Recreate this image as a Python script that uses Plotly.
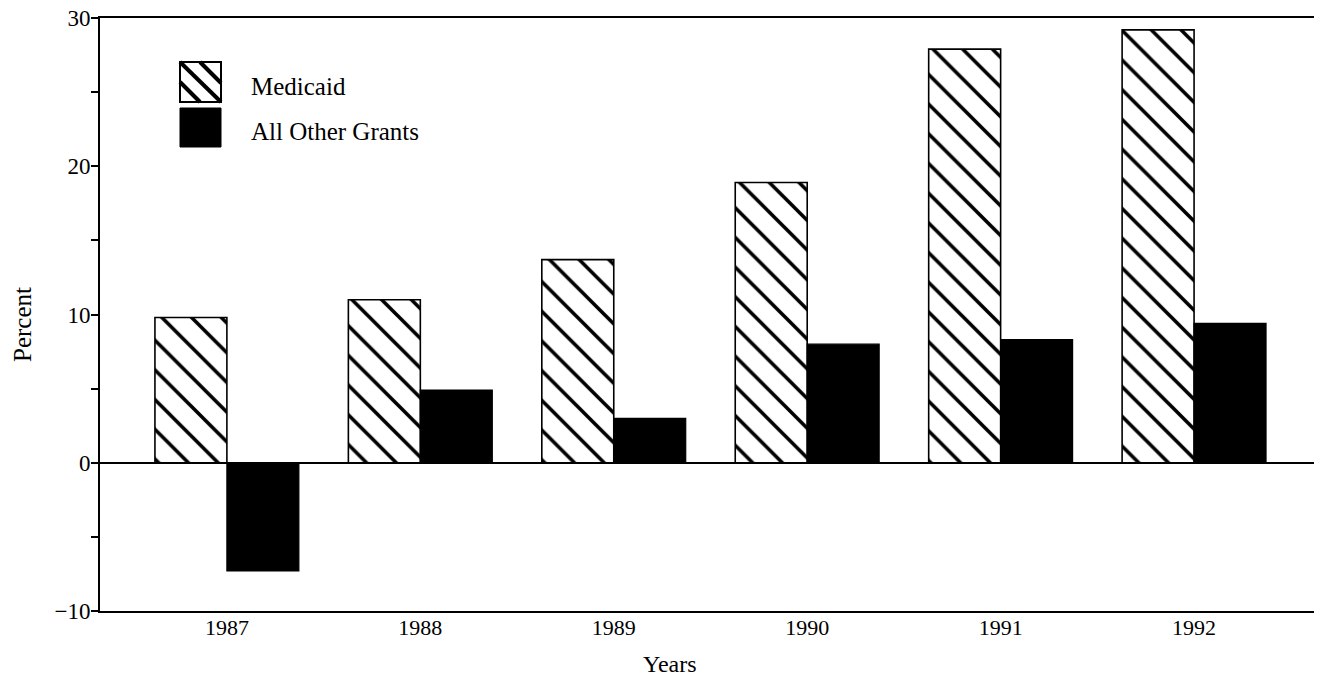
import plotly.graph_objects as go

years = [1987, 1988, 1989, 1990, 1991, 1992]
medicaid = [9.8, 11.0, 13.7, 18.9, 27.9, 29.2]
other_grants = [-7.3, 4.9, 3.0, 8.0, 8.3, 9.4]
y_ticks = [-10, 0, 10, 20, 30]

# page body has an 8px margin; figure is sized so the page does not overflow
O = 8
FW, FH = 1306, 665
ML, MR, MT, MB = 92, 0, 10, 62
PLOT_L, PLOT_B = O + ML, O + FH - MB          # window pixels
PW, PH = FW - ML - MR, FH - MT - MB
FONT = "Liberation Serif"


def px(x):
    return (x - PLOT_L) / PW


def py(y):
    return (PLOT_B - y) / PH


bw = 0.372
fig = go.Figure()
fig.add_trace(go.Bar(
    x=years, y=medicaid, name="Medicaid", width=bw, offset=-bw,
    marker=dict(color="white", line=dict(color="black", width=1.6),
                pattern=dict(shape="\\", fgcolor="black", bgcolor="white",
                             size=21, solidity=0.17, fillmode="replace")),
    showlegend=False))
fig.add_trace(go.Bar(
    x=years, y=other_grants, name="All Other Grants", width=bw, offset=0,
    marker=dict(color="black", line=dict(color="black", width=1.2)),
    showlegend=False))

shapes = []
# legend swatches
x0, x1, y0, y1 = 180, 221, 62, 102
shapes.append(dict(type="rect", xref="paper", yref="paper",
                   x0=px(x0), x1=px(x1), y0=py(y1), y1=py(y0),
                   line=dict(color="black", width=2), fillcolor="white"))
for (ax, ay, bx, by) in [(x0, y0, x1, y1), (x0 + 20, y0, x1, y0 + 21), (x0, y0 + 20, x0 + 20, y1)]:
    shapes.append(dict(type="line", xref="paper", yref="paper",
                       x0=px(ax), y0=py(ay), x1=px(bx), y1=py(by),
                       line=dict(color="black", width=4)))
shapes.append(dict(type="rect", xref="paper", yref="paper",
                   x0=px(180), x1=px(221), y0=py(147), y1=py(108),
                   line=dict(color="black", width=1), fillcolor="black"))

annotations = [
    dict(text="Medicaid", xref="paper", yref="paper", x=px(249), y=py(87),
         xanchor="left", yanchor="middle", showarrow=False,
         font=dict(family=FONT, size=25, color="black")),
    dict(text="All Other Grants", xref="paper", yref="paper", x=px(249), y=py(131),
         xanchor="left", yanchor="middle", showarrow=False,
         font=dict(family=FONT, size=25, color="black")),
    dict(text="Percent", xref="paper", yref="paper", x=px(22), y=py(325),
         xanchor="center", yanchor="middle", textangle=-90, showarrow=False,
         font=dict(family=FONT, size=25, color="black")),
    dict(text="Years", xref="paper", yref="paper", x=px(670), y=py(664),
         xanchor="center", yanchor="middle", showarrow=False,
         font=dict(family=FONT, size=24, color="black")),
]

fig.update_layout(
    width=FW, height=FH,
    margin=dict(l=ML, r=MR, t=MT, b=MB, autoexpand=False),
    paper_bgcolor="white", plot_bgcolor="white",
    barmode="overlay",
    font=dict(family=FONT, size=22, color="black"),
    shapes=shapes, annotations=annotations,
    xaxis=dict(range=[1986.344, 1992.62], tickvals=years,
               ticktext=[str(y) for y in years],
               showgrid=False, zeroline=False, ticks="",
               ticklabelstandoff=-4,
               showline=True, linecolor="black", linewidth=2, mirror=True,
               tickfont=dict(family=FONT, size=22, color="black")),
    yaxis=dict(range=[-10, 30], tickvals=y_ticks,
               showgrid=False, ticks="outside", ticklen=7, tickwidth=1.5,
               tickcolor="black", ticklabeloverflow="allow",
               ticklabelstandoff=-4,
               minor=dict(dtick=5, ticks="outside", ticklen=7, tickwidth=1.5,
                          tickcolor="black", showgrid=False),
               zeroline=True, zerolinecolor="black", zerolinewidth=1.6,
               showline=True, linecolor="black", linewidth=2, mirror=True,
               tickfont=dict(family=FONT, size=23, color="black")),
)

fig.write_html("out.html")
